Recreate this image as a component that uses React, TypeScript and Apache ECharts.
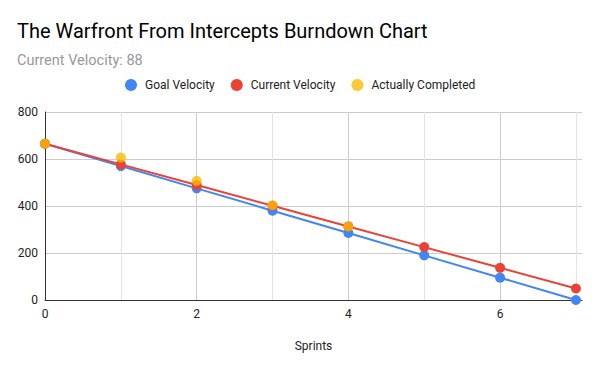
import React, { useEffect, useRef } from "react";
import * as echarts from "echarts";

const sprints = [0, 1, 2, 3, 4, 5, 6, 7];
const goalVelocity = [665, 570, 475, 380, 285, 190, 95, 0];
const currentVelocity = [665, 577, 489, 401, 313, 225, 137, 49];
const actuallyCompleted = [665, 606, 507, 403, 313];
const yTicks = [0, 200, 400, 600, 800];

const FONT = "Roboto, Arial, sans-serif";

export default function App() {
  const ref = useRef<HTMLDivElement>(null);
  useEffect(() => {
    if (!ref.current) return;
    const chart = echarts.init(ref.current, undefined, { renderer: "svg" });
    const pair = (vals: number[]) => vals.map((v, i) => [sprints[i], v]);
    chart.setOption({
      animation: false,
      backgroundColor: "#ffffff",
      textStyle: { fontFamily: FONT },
      title: {
        text: "The Warfront From Intercepts Burndown Chart",
        subtext: "Current Velocity: 88",
        left: 12,
        top: 16,
        itemGap: 12,
        textStyle: { fontFamily: FONT, fontSize: 20, fontWeight: "normal", color: "#000000" },
        subtextStyle: { fontFamily: FONT, fontSize: 14.5, color: "#999999" },
      },
      legend: {
        top: 74,
        left: 120,
        icon: "circle",
        itemWidth: 12,
        itemHeight: 12,
        itemGap: 16,
        textStyle: { fontFamily: FONT, fontSize: 12, color: "#222222", padding: [0, 0, 0, 3] },
        data: ["Goal Velocity", "Current Velocity", "Actually Completed"],
      },
      grid: { left: 45, right: 18, top: 112, bottom: 71, containLabel: false },
      xAxis: {
        type: "value",
        min: 0,
        max: 7.08,
        interval: 1,
        name: "Sprints",
        nameLocation: "middle",
        nameGap: 40,
        nameTextStyle: { fontFamily: FONT, fontSize: 12, color: "#222222" },
        axisLine: { show: true, lineStyle: { color: "#333333", width: 1 } },
        axisTick: { show: false },
        axisLabel: {
          fontFamily: FONT,
          fontSize: 12,
          color: "#222222",
          margin: 8,
          showMaxLabel: false,
          formatter: (v: number) => (Number.isInteger(v) && v % 2 === 0 ? String(v) : ""),
        },
        splitLine: {
          show: true,
          lineStyle: {
            color: ["#cccccc", "#e4e4e4", "#cccccc", "#e4e4e4", "#cccccc", "#e4e4e4", "#cccccc", "#e4e4e4", "rgba(0,0,0,0)"],
            width: 1,
          },
        },
      },
      yAxis: {
        type: "value",
        min: yTicks[0],
        max: yTicks[yTicks.length - 1],
        interval: 200,
        axisLine: { show: true, lineStyle: { color: "#333333", width: 1 } },
        axisTick: { show: false },
        axisLabel: { fontFamily: FONT, fontSize: 12, color: "#222222", margin: 7 },
        splitLine: { show: true, lineStyle: { color: "#cccccc", width: 1 } },
      },
      series: [
        {
          name: "Goal Velocity",
          type: "line",
          data: pair(goalVelocity),
          symbol: "circle",
          symbolSize: 10,
          itemStyle: { color: "#4285F4" },
          lineStyle: { color: "#4285F4", width: 2 },
          z: 2,
        },
        {
          name: "Current Velocity",
          type: "line",
          data: pair(currentVelocity),
          symbol: "circle",
          symbolSize: 10,
          itemStyle: { color: "#EA4335" },
          lineStyle: { color: "#EA4335", width: 2 },
          z: 3,
        },
        {
          name: "Actually Completed",
          type: "scatter",
          data: pair(actuallyCompleted),
          symbol: "circle",
          symbolSize: 10,
          itemStyle: { color: "#FBBC04" },
          z: 4,
        },
      ],
    });
    return () => chart.dispose();
  }, []);
  return <div ref={ref} style={{ width: 600, height: 371, position: "absolute", left: 0, top: 0 }} />;
}
